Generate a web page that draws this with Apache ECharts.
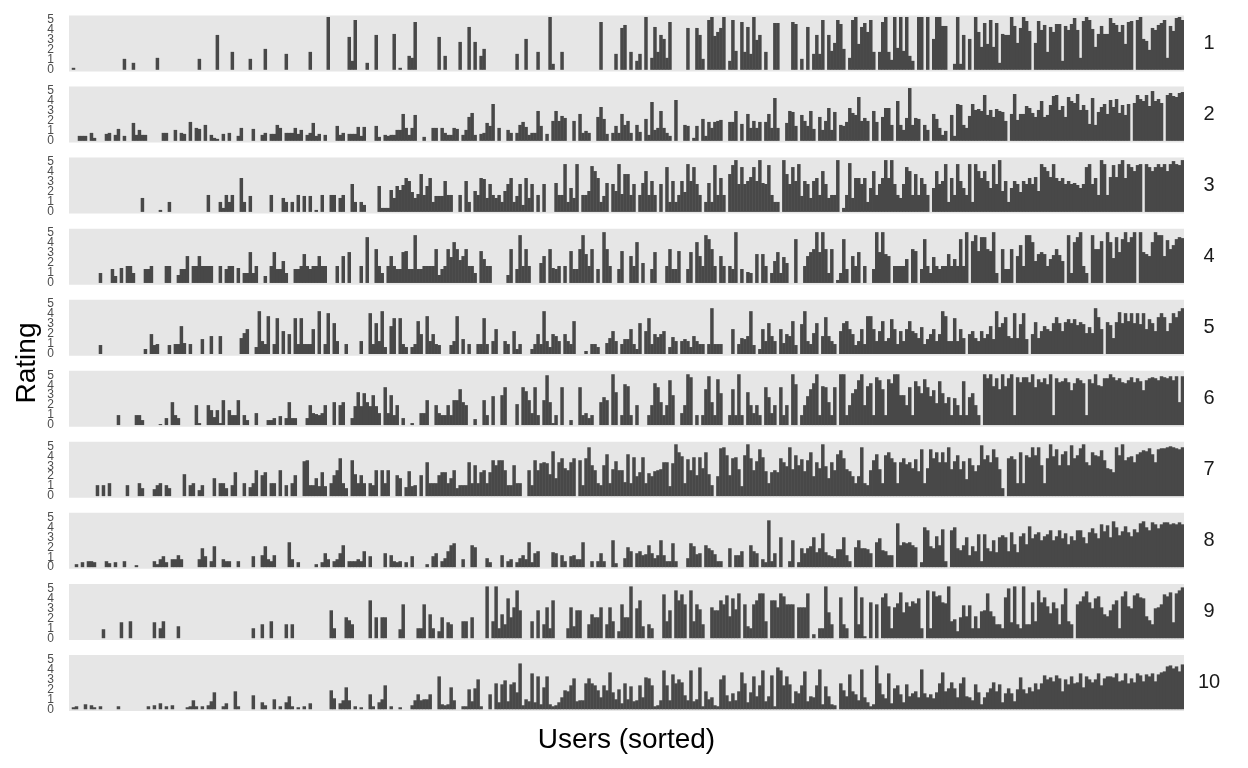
<!DOCTYPE html>
<html>
<head>
<meta charset="utf-8">
<title>Ratings by user</title>
<script src="https://cdn.jsdelivr.net/npm/echarts@6.0.0/dist/echarts.min.js"></script>
<style>
  html, body { margin: 0; padding: 0; background: #fff; }
  #chart { width: 1248px; height: 768px; }
</style>
</head>
<body>
<div id="chart"></div>
<script>
// one value per user slot, users sorted left to right
var rating1 = [
0,0.2,0,0,0,0,0,0,0,0,0,0,0,0,0,0,0,0,1.1,0,
0,0.7,0,0,0,0,0,0,0,1.2,0,0,0,0,0,0,0,0,0,0,
0,0,0,1.1,0,0,0,0,0,3.5,0,0,0,0,1.8,0,0,0,0,0,
1.1,0,0,0,0,2.1,0,0,0,0,0,0,1.6,0,0,0,0,0,0,0,
1.8,0,0,0,0,0,5.3,0,0,0,0,0,0,3.3,0.9,5.0,0,0,0,0.7,
0,0,3.5,0,0,0,0,0,3.6,0,0.2,0,0,1.4,1.2,4.8,0,0,0,0,
0,0,0,3.3,0,1.4,0,0,0,0,2.8,0,0,4.3,0,2.8,0,1.4,2.1,0,
0,0,0,0,0,0,0,0,0,1.6,0,0,3.1,0,0,0,1.8,0,0,0,
5.3,0.6,0,0,1.8,0,0,0,0,0,0,0,0,0,0,0,0,4.8,0,0,
0,0,1.6,0,4.2,4.5,0,1.8,0,0.9,1.6,0,5.3,0,1.2,4.3,1.8,3.5,3.1,1.2,
4.8,0,0,0,0,0,4.2,0,0,4.2,3.5,1.1,0,5.0,5.3,3.4,3.8,4.2,5.3,0,
0.9,5.0,1.9,0,4.8,1.8,4.3,1.6,5.3,3.0,3.5,0,1.8,0,0,4.7,4.7,0,0,0,
0,4.8,4.6,0,1.1,0,4.3,0,1.6,3.5,1.6,5.0,0,3.5,1.9,2.7,5.0,4.6,2.1,0,
1.2,5.0,5.3,2.6,4.3,4.7,3.8,5.0,1.8,0,1.8,4.8,5.3,1.8,1.0,5.3,2.2,5.3,1.9,5.3,
1.4,0.9,0,5.3,5.3,0,5.3,0,3.1,5.3,5.3,4.4,4.4,0,0,0.6,5.3,0.6,3.5,0,
3.1,0,5.3,3.8,2.3,4.7,2.6,5.0,2.3,4.7,0.7,3.6,3.5,3.5,5.3,4.4,2.7,4.2,5.3,4.9,
3.9,0,2.7,4.9,4.0,4.5,1.8,4.3,3.8,4.6,4.6,0.9,4.4,4.0,4.6,5.2,4.0,1.2,4.9,5.3,
5.0,4.1,2.3,3.6,4.4,3.6,3.6,5.2,4.7,4.5,3.8,4.5,2.6,4.8,4.9,0,5.0,5.3,3.1,2.9,
2.0,4.2,4.0,4.5,4.7,5.0,1.2,4.4,3.9,5.2,5.3,5.0
];
var rating2 = [
0,0,0,0.5,0.5,0.5,0,0.8,0.3,0,0,0,0.7,0.8,0,0.6,1.2,0,0.5,0,
0,1.8,0.6,1.1,0.6,0.6,0,0,0,0,0,0.8,0.8,0,0,1.1,0,0.8,0.7,0,
1.9,0,1.3,1.2,0,1.6,0,0.6,0.3,0.2,0,0.7,0,0.8,0,0,0.5,1.3,0,0,
0,1.2,0,0,0.6,0.8,0,0.7,0.7,1.6,1.3,0,0.8,0.8,0.8,1.3,0.7,1.1,0,0.6,
0.8,1.8,0.5,0.7,0,0.6,0,0,0,1.5,0.6,0.8,0,0.7,0.7,0.7,1.4,0.5,1.4,0,
0,0,1.5,0.4,0,0.6,0.5,0.6,0.6,1.1,1.1,2.7,1.3,0.6,1.3,2.6,0,0,0.4,0,
0,1.3,1.3,0,1.3,0.8,0.6,0.6,1.3,1.2,0,0.6,1.1,2.4,2.8,0.6,0,0.7,0.8,1.8,
1.5,3.7,0,1.3,0,0,1.1,0.8,0,0.8,1.6,1.9,1.4,0.6,0.8,0.8,3.0,1.5,0,0.7,
0,2.0,3.0,2.0,2.5,2.3,0,0,2.0,0,2.7,0.8,1.0,0.8,0,0,2.4,3.4,2.2,0.7,
0,0.8,1.5,0.8,2.7,1.6,
2.0,0.8,0,1.6,0.9,0,2.2,0.6,3.9,1.1,
1.3,3.0,1.3,0.8,0.5,0,4.1,0,0,1.6,
1.5,0,0.3,1.5,0,2.2,0.5,1.9,1.3,1.9,
2.0,2.1,0,0,1.9,1.9,3.0,0,1.7,0,
2.7,1.3,2.0,1.3,1.9,0,1.9,2.7,1.3,4.3,
1.3,0,0,1.8,3.0,2.9,1.5,0,2.6,2.0,
1.5,3.0,1.2,0,2.4,1.1,2.0,3.3,1.1,2.9,
0,1.6,1.5,1.9,3.3,2.8,2.6,4.4,2.0,2.3,
2.0,0,3.0,1.9,0,2.4,3.3,3.3,1.6,0,
4.0,1.6,1.1,2.3,5.3,1.6,2.3,2.2,0,1.6,
1.1,0,2.7,2.2,1.3,0.6,1.0,0,2.6,0.5,
3.7,3.6,1.6,1.3,2.5,3.7,3.1,3.2,3.0,4.6,
2.6,3.1,2.4,3.2,3.0,2.9,2.0,0,2.7,4.7,
2.1,2.7,2.7,3.5,3.3,2.8,2.4,3.1,4.0,2.4,
2.6,3.6,4.5,4.6,3.1,3.5,2.4,4.4,4.0,3.8,
4.7,3.1,3.6,3.1,1.7,4.3,1.6,2.9,3.4,3.7,
2.7,4.1,3.4,4.2,2.8,3.6,2.6,3.7,0,3.8,
4.6,4.2,4.0,4.6,3.5,5.0,4.0,4.2,3.8,0,
4.6,4.8,4.5,4.4,4.8,4.9
];
var rating3 = [
0,0,0,0,0,0,0,0,0,0,0,0,0,0,0,0,0,0,0,0,
0,0,0,0,1.4,0,0,0,0,0,0.2,0,0,1.0,0,0,0,0,0,0,
0,0,0,0,0,0,1.7,0,0,0,1.0,0.4,1.7,1.0,1.7,0,0,3.4,1.0,0,
1.6,0,0,0,0,0,0,1.7,0,0,0,1.4,1.0,0,1.0,0,1.7,0,1.6,0,
1.6,0,0.2,0,1.7,0,0,1.7,1.7,0,1.4,1.7,0,0,2.8,1.0,0,1.0,0.7,0,
0,0,0,2.6,0.4,0.4,0.4,2.2,1.4,2.6,2.2,2.7,3.4,3.1,2.0,1.4,1.8,3.8,1.7,2.6,
3.4,1.0,1.6,1.6,1.6,3.1,1.7,1.7,0,0,1.7,0,3.1,1.0,0,2.1,1.7,3.4,3.3,1.4,
2.8,1.7,1.4,1.7,1.0,2.1,2.8,3.4,1.0,1.6,2.8,0.7,3.4,1.4,2.8,0,1.7,0,2.8,0,
0,0,2.9,1.7,1.7,4.8,1.0,2.4,1.4,4.8,0,1.7,1.7,2.1,4.6,4.1,3.4,1.0,1.6,2.9,
0,2.8,2.1,4.8,1.8,3.8,
3.8,1.7,2.8,0,1.7,2.9,4.1,1.7,3.1,1.7,
0,2.8,0,4.5,1.0,3.1,1.0,1.7,3.1,2.0,
4.8,3.1,4.5,2.8,1.7,0,1.0,2.9,1.0,4.7,
1.7,3.4,1.7,0,3.8,4.7,5.2,2.8,4.5,2.8,
3.1,3.5,4.5,3.1,5.2,2.9,2.8,4.7,1.7,1.0,
1.0,0,5.2,3.8,2.8,4.5,3.1,4.8,1.6,3.1,
2.8,1.4,3.1,3.4,1.7,4.1,2.8,1.4,1.7,1.7,
5.2,0,0.4,1.7,4.9,1.4,3.4,3.4,2.8,3.4,
1.0,2.4,4.1,1.7,2.8,3.4,5.2,3.4,5.2,2.8,
1.7,1.4,2.8,4.5,4.1,1.7,3.8,1.7,3.4,2.8,
1.7,0,2.4,4.1,2.8,3.1,4.8,1.0,3.4,1.7,
4.8,3.1,2.4,1.7,4.8,1.0,4.8,4.1,3.4,4.1,
3.1,2.4,4.8,2.8,5.2,2.1,3.1,1.0,2.4,3.1,
2.8,2.0,3.1,2.8,3.4,2.8,3.5,2.1,4.8,4.5,
4.1,3.5,4.8,3.4,3.1,3.4,2.8,3.1,2.8,2.9,
2.7,2.4,2.8,4.5,4.8,2.8,3.4,1.7,5.2,4.8,
1.7,3.5,4.7,3.5,4.8,5.2,3.4,4.8,4.5,4.1,
4.7,4.8,0,4.8,4.5,4.1,4.5,4.8,4.5,4.8,
4.1,4.8,5.1,4.8,4.7,5.2
];
var rating4 = [
0,0,0,0,0,0,0,0,0,0,1.0,0,0,0,1.4,0.7,0,1.5,0,1.7,
1.7,1.0,0,0,0,1.4,1.4,1.7,0,0,0,0,1.7,1.7,0,0,0.8,1.4,1.4,2.7,
0,1.7,1.7,2.7,1.7,1.7,1.7,1.7,0,0,1.7,0,1.4,1.7,1.7,0,1.5,0,1.0,1.0,
3.1,1.0,1.7,0,0,0.7,0,1.7,3.1,1.4,1.4,2.2,1.0,0,0,1.4,1.4,1.7,2.9,1.7,
1.4,1.7,1.7,2.7,1.7,1.7,0,0,0,1.7,0,2.7,0,3.1,0,0,0,1.7,0,4.6,
0,0,3.4,1.7,1.0,0,1.7,2.7,1.7,1.4,1.4,3.1,3.2,1.4,1.4,4.8,1.4,1.4,1.7,1.7,
1.7,1.7,3.4,0.8,1.4,1.7,3.4,2.6,4.1,3.4,2.3,2.7,3.4,1.7,1.7,1.0,0,3.2,2.4,1.7,
1.7,0,0,0,0,0,0.8,3.4,0,1.4,4.8,1.7,3.4,1.7,0,0,0,2.0,2.7,0,
3.4,1.5,1.4,1.7,0,1.7,0,3.2,1.4,1.4,3.4,4.8,2.9,1.7,3.4,0,1.4,0,5.1,3.4,
1.7,0,0,1.4,3.2,0,
0,2.7,1.7,4.1,0,2.0,0,0,1.4,3.1,
0,0,0,1.7,3.4,1.4,1.4,3.2,0,0,
1.4,3.1,0,4.1,2.7,1.7,4.8,4.4,3.4,1.7,
0,2.7,1.7,0,1.7,1.4,5.1,0,1.4,0,
1.1,1.0,0,2.9,0,2.9,1.7,0,1.0,2.2,
3.1,1.0,2.6,2.0,0,0,4.4,0,0,1.7,
2.7,3.1,3.4,5.1,3.1,5.1,3.4,1.0,3.4,0,
0.3,1.0,4.4,1.4,0,2.7,1.7,3.1,0,1.7,
0,0,1.4,5.1,3.1,5.1,2.9,2.7,0,1.7,
1.7,1.7,1.7,2.4,0,3.4,3.2,0,1.4,4.4,
1.7,1.0,2.6,1.7,1.4,1.7,1.7,2.9,1.7,2.4,
1.7,4.4,1.7,5.1,0,4.2,4.8,3.2,4.6,4.6,
3.4,3.2,5.1,1.0,0,3.4,1.4,1.4,3.4,0,
2.7,3.8,1.7,4.8,4.8,4.1,2.2,2.9,3.1,2.9,
1.7,2.4,2.8,3.4,2.8,2.2,0,4.8,1.0,4.1,
4.6,5.1,1.7,1.0,0,4.8,3.4,3.4,4.2,0,
5.1,4.1,2.5,4.6,3.1,4.4,5.1,4.1,4.6,5.1,
0,5.1,3.1,2.9,2.7,4.1,5.1,4.8,4.8,2.7,
4.3,3.4,3.8,4.4,4.6,4.5
];
var rating5 = [
0,0,0,0,0,0,0,0,0,0,0.9,0,0,0,0,0,0,0,0,0,
0,0,0,0,0,0.5,0,2.0,0.9,1.0,0,0,0,0.9,0,1.0,1.0,2.8,1.1,0,
1.0,0,0,0,1.5,0,0,1.8,0,0,1.8,0,0,0,0,0,0,1.6,2.1,2.5,
0,0,0.7,4.3,1.3,1.0,3.8,0,1.0,3.6,0,2.3,0,2.0,0,3.6,1.0,3.6,1.0,1.0,
1.0,2.5,0,4.3,0,1.0,4.1,0,3.1,1.3,0,0,1.0,0,0,0,0,1.3,0,0,
4.1,1.0,3.1,1.3,4.3,0.7,0,2.8,3.6,0,3.6,1.0,0.7,0,0.7,1.0,3.3,2.0,0,3.8,
1.3,2.0,1.0,0.9,0,0,0,0.9,1.3,3.8,0,1.5,0,1.0,0,0,1.0,1.0,3.6,1.0,
0,1.3,2.5,0,0,1.3,1.0,0,2.3,0.5,1.0,0,0,0,0.5,1.0,2.0,1.0,4.3,1.3,
0.7,2.0,1.8,1.3,0,2.0,1.3,1.0,3.3,0,0,0,0.3,0,1.0,1.0,0.7,0,0,1.1,
1.6,2.3,1.3,0,1.0,1.5,
1.5,2.5,1.0,0.5,3.1,0,2.3,3.6,1.0,2.0,
1.7,2.0,2.3,0,0.7,1.7,1.3,0,1.3,1.5,
1.3,0.7,1.8,1.3,1.0,1.0,0,1.0,4.6,1.0,
1.0,1.0,0,0,0,2.5,0,1.0,1.6,1.5,
1.8,4.3,0.9,0,0.5,2.5,1.3,3.1,1.8,1.3,
0,2.5,1.1,2.0,1.8,3.3,0.9,0,3.0,4.3,
1.3,1.0,2.1,3.1,0,1.8,3.7,1.8,1.3,1.0,
0,2.3,3.1,3.3,2.5,2.0,0.9,1.3,2.5,1.0,
3.8,3.8,2.5,1.3,2.3,3.3,1.3,1.6,3.5,2.5,
1.0,2.3,1.3,2.5,3.3,2.3,2.1,1.6,2.7,1.0,
1.5,2.0,2.5,1.3,2.0,4.3,3.8,1.3,1.3,3.6,
1.3,2.5,1.6,0,2.0,2.3,1.6,1.3,2.3,1.6,
2.0,2.8,1.5,4.3,2.7,3.1,3.7,1.8,1.6,4.1,
1.6,3.0,4.1,1.5,0,2.0,3.2,1.6,2.3,2.8,
2.5,2.3,3.1,3.7,3.1,2.3,3.2,3.5,3.1,3.5,
2.9,3.2,3.0,2.1,2.7,2.1,4.6,3.7,2.5,0,
3.2,2.9,1.6,3.2,4.2,3.1,4.1,3.3,4.1,3.1,
4.1,3.0,4.1,2.5,3.5,3.1,2.3,3.7,4.1,3.7,
2.3,3.1,4.1,3.7,4.3,4.6
];
var rating6 = [
0,0,0,0,0,0,0,0,0,0,0,0,0,0,0,0,1.0,0,0,0,
0,0,1.0,1.0,0.5,0,0,0,0,0,0.1,0,0.7,0,2.3,1.0,0.7,0,0,0,
0,0,2.0,0.2,0,0,2.0,1.5,0.8,1.5,0.2,2.5,0,1.5,1.0,1.0,2.5,0,1.0,0.5,
0,0,1.2,0,0,0,0.5,0.5,0.7,0,0.9,0,0.7,2.3,0.7,0.7,0,0,0,0.7,
2.0,1.2,1.1,1.0,1.2,2.0,0,0,2.3,0,2.0,2.3,0,0,0.7,1.9,3.3,1.9,3.2,2.3,
1.9,3.0,1.9,1.2,0,3.8,1.2,3.0,1.0,2.0,0,0.7,0,0,0.2,0,0,1.2,1.2,2.5,
0,0,2.0,1.2,1.0,1.0,2.0,1.0,2.5,2.5,3.6,2.3,2.0,0,0,0.6,0,0,2.5,1.0,
0,2.9,0,0,3.0,3.8,0,0,0,2.1,0,3.8,3.4,2.5,1.2,3.8,1.0,0,2.5,5.0,
2.3,0.2,1.0,0,3.8,0,0,0.5,0,0,3.8,1.0,1.2,0.7,1.0,0,0,2.3,2.8,2.5,
0,5.1,3.3,0,1.0,4.1,
3.9,1.0,0,2.0,0,0,0,1.0,2.0,4.2,
3.8,2.3,1.0,2.0,4.5,3.0,0,0,1.2,2.0,
5.1,4.8,0,1.0,0,1.0,3.6,4.9,2.3,1.0,
4.6,3.2,0,0,1.0,3.6,1.0,5.1,1.0,0,
3.3,2.0,1.2,2.0,1.0,0,3.8,2.8,1.2,2.0,
0,3.8,1.0,2.0,0,5.1,4.1,0,1.0,2.0,
2.9,3.6,4.2,5.1,1.0,3.9,3.8,2.3,1.0,3.8,
0,5.1,5.1,1.0,2.0,3.2,3.6,4.5,5.1,2.0,
3.9,4.2,1.0,4.8,4.5,3.6,1.0,4.6,4.2,5.1,
5.1,3.0,3.0,2.0,3.8,1.0,4.4,3.9,3.2,4.6,
3.8,2.9,3.5,2.2,4.4,3.2,2.2,2.8,1.0,2.7,
2.0,1.0,4.4,1.0,2.8,3.2,2.0,1.0,0,5.1,
4.7,5.1,3.9,4.7,3.6,5.1,3.9,4.7,5.1,1.0,
4.8,4.3,4.8,4.8,4.3,5.1,3.8,4.6,4.3,4.7,
4.1,5.1,1.0,4.7,4.3,4.4,4.7,4.3,3.5,4.2,
4.7,4.5,4.2,1.0,4.6,4.2,5.1,4.0,3.9,4.7,
4.7,5.1,4.8,4.5,4.7,4.3,4.2,4.5,4.8,4.3,
4.7,4.4,3.5,4.5,4.7,4.8,4.7,4.5,4.9,4.8,
4.7,4.9,4.5,4.9,2.3,4.9
];
var rating7 = [
0,0,0,0,0,0,0,0,0,1.1,0,1.1,0,1.3,0,0,0,0,0,1.1,
0,0,0,1.3,0.8,0,0,0,0.7,1.1,1.3,0,1.1,0.8,0,0,0,0,2.2,0,
1.1,1.3,0,0.6,1.1,0,0,0,1.8,0,1.3,1.3,0.8,0,1.1,2.4,0,0,1.3,0,
0.9,1.3,2.6,0,2.1,2.4,0,1.3,1.3,0,2.6,0,1.1,0,1.3,2.1,0,0,3.5,3.6,
1.1,1.1,1.8,1.0,2.4,1.0,0,1.3,2.1,2.6,3.8,1.3,0.8,0,3.6,2.2,1.3,2.1,1.3,0,
1.3,1.1,2.6,0,2.6,1.3,2.6,0,0,2.1,1.8,0,0.9,2.5,1.0,1.1,0,2.1,0,3.4,
1.3,1.3,1.3,2.1,2.4,2.4,1.3,1.8,2.6,0.8,1.1,1.1,1.1,3.4,1.3,3.1,1.3,2.4,2.6,1.3,
2.4,3.6,3.1,3.6,3.6,2.6,1.1,1.1,3.1,1.3,1.3,0,0,2.6,1.1,3.6,2.6,3.3,3.4,3.3,
2.2,4.5,1.8,3.4,3.8,2.8,2.6,3.4,3.8,0,3.6,1.1,3.8,4.9,3.1,2.6,1.3,1.1,3.1,4.2,
1.3,2.7,3.5,2.6,2.6,1.4,
4.2,1.3,3.9,2.0,2.4,3.9,1.3,2.3,2.0,2.5,
2.6,2.7,3.4,3.4,1.0,3.3,5.2,4.4,4.0,1.3,
3.7,2.6,3.9,2.1,3.9,2.8,4.4,2.2,1.1,0,
2.0,4.8,4.9,4.1,2.1,3.8,3.9,2.7,1.0,4.1,
5.2,3.8,2.6,3.5,4.7,3.9,2.5,1.3,2.4,2.6,
2.4,3.8,3.4,3.0,4.9,2.7,4.1,3.1,3.7,2.5,
3.6,4.4,2.0,3.4,2.8,5.2,3.0,1.8,3.4,2.6,
4.2,4.6,3.8,2.7,2.5,2.0,1.3,2.0,4.9,1.3,
1.1,2.6,3.6,4.2,2.7,1.3,4.1,4.4,3.8,3.4,
1.3,3.4,3.8,3.2,3.4,2.8,3.7,2.5,4.7,1.3,
2.8,4.7,3.8,4.4,3.4,4.4,3.4,4.9,2.7,3.5,
4.1,2.7,3.5,1.7,3.8,3.1,2.5,3.1,5.1,3.7,
4.1,3.4,4.7,3.9,2.7,0.8,0,3.8,4.0,3.7,
1.3,4.4,1.3,4.1,3.9,4.9,4.1,4.9,3.1,1.3,
3.8,5.2,4.0,4.7,3.1,4.2,4.5,3.1,5.1,3.8,
4.1,4.8,5.2,3.4,3.1,4.4,4.1,4.0,4.6,3.6,
2.8,2.7,2.4,4.9,4.1,5.2,3.6,3.9,4.0,3.4,
4.2,4.4,4.6,4.5,4.8,4.2,3.4,4.7,4.8,4.8,
4.9,5.0,4.9,4.8,4.7,4.9
];
var rating8 = [
0,0,0.3,0,0.5,0,0.6,0.6,0.5,0,0,0,0.6,0.4,0,0.5,0,0,0.6,0,
0,0,0.2,0,0,0,0,0,0.6,0.3,0.8,1.1,0.5,0,0.8,0.8,1.2,0.8,0,0,
0,0,0,0.8,1.9,1.1,0,0.6,2.1,0,0,0.8,0.6,0.6,0,0,0.6,0,0,0,
0,1.1,0,0,1.2,2.1,0.8,0.6,1.2,0,0,0,0,2.5,0.8,0,0.5,0,0,0,
0,0,0.3,0,0.5,1.4,0.8,0,0.6,0.8,1.4,2.2,0,0.6,0.6,0.6,0.8,0.6,1.6,0,
1.1,0,0,0,0,1.4,0,1.2,0.6,0.5,0.6,0,0.5,0,1.1,0,0,0,0,0.3,
0,1.1,1.4,0,0.6,0.9,1.6,2.2,2.4,0,0,0.8,0,0,2.2,2.0,0,0,0,0.9,
0.5,0,0,0,1.2,0,0.6,0.8,0,0.5,0.9,1.2,0.8,2.5,0.5,1.4,1.6,0,0,0,
0,1.5,1.4,0,1.2,0.6,0,1.1,1.2,0.8,0.8,2.5,0,0,0.6,0,0.6,1.4,0.6,0,
0,2.7,0.4,0,0,0.9,
2.0,1.6,0,1.4,1.6,1.2,1.3,2.2,1.4,0.9,
1.2,2.7,1.2,0.6,0.6,2.4,0.6,0,0,0,
0.9,2.4,2.1,1.3,1.4,0,2.2,1.9,1.7,1.3,
0.6,0.6,0,0,1.9,0,1.2,1.2,1.6,0,
0,2.2,1.6,1.4,0,0.8,0.5,4.7,0.6,1.4,
0,3.0,0,0,0.6,2.7,0,0.5,1.9,1.4,
1.9,2.1,3.0,1.5,1.9,3.4,1.5,1.2,1.1,0.9,
1.8,1.8,3.0,1.2,0.6,0,2.0,2.7,1.9,1.9,
1.8,1.4,0,2.5,2.9,1.7,1.6,1.2,1.2,0,
4.4,2.2,2.5,2.4,2.5,2.2,2.0,0,0.5,4.0,
3.7,2.1,1.9,3.1,2.2,3.8,0.6,0,3.7,4.0,
1.9,1.7,2.2,3.0,1.2,2.1,1.6,3.3,0.6,3.3,
1.9,1.6,2.7,1.5,3.0,3.2,3.0,1.6,3.5,2.3,
1.5,3.1,3.4,2.3,4.1,2.9,3.3,3.5,2.7,3.1,
3.3,3.7,2.7,3.1,3.7,2.9,3.4,2.3,3.1,2.7,
3.7,3.7,3.0,2.4,3.5,3.9,3.4,2.9,4.3,3.6,
4.2,3.0,4.6,4.0,3.2,3.6,4.1,3.5,3.1,3.8,
3.5,4.4,4.6,4.0,3.7,4.5,4.3,3.9,4.3,4.5,
4.5,4.3,4.4,4.3,4.5,4.3
];
var rating9 = [
0,0,0,0,0,0,0,0,0,0,0,0.9,0,0,0,0,0,1.6,0,0,
1.7,0,0,0,0,0,0,0,1.6,0,1.0,1.7,0,0,0,0,1.2,0,0,0,
0,0,0,0,0,0,0,0,0,0,0,0,0,0,0,0,0,0,0,0,
0,1.0,0,0,1.4,0,0,1.7,0,0,0,0,1.4,0,1.4,0,0,0,0,0,
0,0,0,0,0,0,0,2.8,1.0,0,0,0,2.1,1.8,1.4,0,0,0,0,0,
3.8,0,2.1,0,2.1,2.1,0,0,0,0,0.9,3.4,0,0,0,0,1.0,1.0,3.4,0,
2.4,1.0,0,0.7,2.1,0,1.6,1.4,0,0,0,1.7,1.7,0,2.1,0,0,0,0,5.2,
0,1.7,5.2,1.0,2.4,1.4,4.0,2.1,3.1,4.8,2.8,0,0,0,1.7,0,2.8,0,1.4,3.1,
1.0,3.8,0,0,0,0,1.0,3.1,1.2,2.8,2.8,0,0,1.4,2.4,2.1,2.1,3.1,0,1.4,
3.1,1.7,0,0.7,3.4,2.1,
2.1,5.2,0,3.0,3.8,1.2,0,1.4,1.0,0,
0,0,4.4,1.7,2.8,0,4.8,3.8,4.4,3.4,
0,4.8,1.7,3.4,2.9,1.4,0,0,3.1,2.8,
2.8,3.8,3.4,4.3,2.2,4.0,2.9,4.5,0,3.4,
1.2,1.0,3.4,3.8,4.5,4.5,1.7,0,3.8,3.8,
3.1,4.5,4.2,3.4,3.4,3.4,0,3.1,3.1,3.1,
4.5,0,0.4,0,1.0,1.0,5.2,2.6,1.4,0,
0,4.1,1.4,1.0,0,0,5.2,1.4,4.1,0.2,
0,3.6,0,3.4,0,4.1,4.5,3.2,1.0,3.1,
3.5,4.6,2.6,3.6,3.2,3.7,3.5,4.0,1.0,0,
4.8,1.0,4.7,4.2,4.3,3.6,3.5,5.2,1.7,1.9,
0.7,2.1,3.3,2.2,3.3,1.0,2.2,1.0,2.7,2.8,
4.5,2.7,2.2,1.4,1.4,1.0,4.1,5.0,1.6,5.2,
1.4,1.0,5.2,1.4,1.4,3.6,1.7,4.8,3.6,4.1,
3.2,2.5,3.6,3.0,1.4,3.4,5.0,1.7,1.4,0,
3.4,3.7,4.2,4.7,3.6,3.0,4.0,4.2,3.1,2.4,
2.2,2.8,3.4,3.8,1.0,4.2,4.7,3.2,3.0,4.3,
4.5,4.1,4.0,2.2,1.8,1.4,3.0,3.1,3.4,4.4,
4.2,4.6,1.6,4.5,4.8,5.1
];
var rating10 = [
0,0.2,0.3,0,0,0.5,0,0.4,0.2,0,0.3,0,0,0,0,0,0.3,0,0,0,
0,0,0,0,0,0,0.3,0,0.4,0,0.6,0,0.3,0,0.4,0,0,0,0,0.2,
0.3,0.9,0.3,0,0.3,0,0.4,0.8,1.7,0,0,0.3,0.6,0,0,1.8,0.3,0,0,0,
0,1.4,0,0,0.7,0.4,0,0,1.0,0,0.3,0,0.7,1.3,0.3,0,0.2,0,0.3,0,
0.6,0,0,0,0,0,0,1.9,1.1,0,0.6,0.9,2.2,0.9,0,0.3,0,0.2,0,0,
1.5,0.3,0,0.7,1.0,2.4,0,0.3,0,0,0.2,0,0,0,0.4,0.9,1.5,0.9,1.0,1.0,
1.5,0,0,3.3,0.5,0.4,0.5,2.2,0.9,0,0,0.3,0.3,2.0,0.8,2.1,3.0,0.3,0,0,
1.5,0,2.6,0.7,2.5,2.9,0.8,2.5,2.7,1.7,4.6,0.4,1.0,0.8,3.6,0.7,3.3,0.5,2.2,3.3,
0.5,0.3,0.4,0.7,1.2,1.9,1.8,2.4,3.1,0.8,0.9,0.9,2.6,3.1,2.6,2.4,1.9,1.2,2.4,1.9,
3.7,1.7,1.0,2.0,0.6,2.6,
1.0,2.3,0.8,0.9,2.4,1.2,3.2,3.1,2.4,0.3,
0.4,0.9,3.9,2.4,0.9,3.5,2.6,3.0,2.7,1.4,
0.9,3.9,0.8,1.0,4.2,0.3,1.8,1.0,1.2,0.4,
0.3,3.0,3.4,1.4,0.8,1.6,0.9,1.8,3.7,2.6,
0.7,1.7,3.3,1.3,2.4,3.9,0.8,1.3,3.4,0.3,
4.2,3.9,2.4,3.3,2.5,0.6,1.8,1.6,2.4,3.8,
0.8,1.3,1.2,2.4,4.0,0.5,2.3,1.3,0.5,0.4,
0,2.6,1.9,1.3,3.5,1.8,1.5,0.9,4.0,1.2,
0.7,0.3,0.5,4.4,2.6,1.5,1.1,3.6,0.6,2.1,
2.4,1.5,0.7,2.5,1.3,1.6,1.8,1.2,4.0,1.6,
1.2,1.5,1.1,1.7,2.6,3.7,1.8,2.1,2.7,2.1,
1.2,2.6,3.2,1.3,1.2,0.9,2.5,1.7,0.5,1.2,
1.7,2.1,2.7,1.8,2.5,0.7,1.6,2.1,1.6,0.8,
2.0,3.2,2.0,1.6,2.2,1.8,2.6,2.0,2.6,3.4,
3.0,3.2,2.8,3.4,3.1,1.8,3.0,2.5,3.3,2.6,
2.7,3.6,2.2,3.3,3.0,2.7,3.0,3.6,2.4,3.1,
3.3,3.3,3.2,3.6,2.8,2.9,3.6,2.6,3.1,2.7,
3.6,3.4,2.8,3.5,3.3,3.6,2.8,3.5,3.7,3.8,
4.3,4.4,4.1,4.3,3.8,4.5
];

var panelLabels = ['1', '2', '3', '4', '5', '6', '7', '8', '9', '10'];
var ratingTicks = [0, 1, 2, 3, 4, 5];
var ratings = [rating1, rating2, rating3, rating4, rating5, rating6, rating7, rating8, rating9, rating10];

var userCount = rating1.length;
var users = [];
for (var u = 1; u <= userCount; u++) users.push(u);

var font = '"Liberation Sans", Arial, Helvetica, sans-serif';
var panelLeft = 69, panelWidth = 1115;
var panelTop = 15.5, panelStep = 71.05, panelHeight = 56;
// a hair wider than the band so neighbouring bars close up without seams
var barPx = panelWidth / userCount + 0.5;

var grids = [], xAxes = [], yAxes = [], series = [], labels = [];

ratings.forEach(function (data, i) {
    var top = panelTop + i * panelStep;
    grids.push({
        left: panelLeft, top: top, width: panelWidth, height: panelHeight,
        show: true, backgroundColor: '#e6e6e6', borderWidth: 0,
        containLabel: false, outerBoundsMode: 'none'
    });
    xAxes.push({
        type: 'category', gridIndex: i, data: users,
        axisLine: { show: false }, axisTick: { show: false },
        axisLabel: { show: false }, splitLine: { show: false }
    });
    // tick labels are stacked tighter than the axis' overlap check allows,
    // so they are placed below from the axis scale instead
    yAxes.push({
        type: 'value', gridIndex: i, min: -0.17, max: 5.45,
        axisLine: { show: false }, axisTick: { show: false },
        splitLine: { show: false }, axisLabel: { show: false }
    });
    series.push({
        type: 'bar', xAxisIndex: i, yAxisIndex: i, data: data,
        barWidth: barPx, silent: true,
        itemStyle: { color: '#484848' }
    });
    labels.push({
        type: 'text', x: 1209, y: top + panelHeight / 2,
        style: {
            text: panelLabels[i], fill: '#1a1a1a', font: '20px ' + font,
            align: 'center', verticalAlign: 'middle'
        }
    });
});

labels.push({
    type: 'text', x: panelLeft + panelWidth / 2, y: 740,
    style: { text: 'Users (sorted)', fill: '#000', font: '28px ' + font, align: 'center', verticalAlign: 'middle' }
});
labels.push({
    type: 'text', x: 27, y: 363, rotation: Math.PI / 2,
    style: { text: 'Rating', fill: '#000', font: '28px ' + font, align: 'center', verticalAlign: 'middle' }
});

var chart = echarts.init(document.getElementById('chart'));
chart.setOption({
    animation: false,
    backgroundColor: '#ffffff',
    grid: grids,
    xAxis: xAxes,
    yAxis: yAxes,
    series: series
});

ratings.forEach(function (data, i) {
    ratingTicks.forEach(function (t) {
        var y = chart.convertToPixel({ yAxisIndex: i }, t);
        labels.push({
            type: 'text', x: panelLeft - 15, y: y,
            style: {
                text: String(t), fill: '#4d4d4d', font: '12px ' + font,
                align: 'right', verticalAlign: 'middle'
            }
        });
    });
});

chart.setOption({ graphic: labels });
</script>
</body>
</html>
